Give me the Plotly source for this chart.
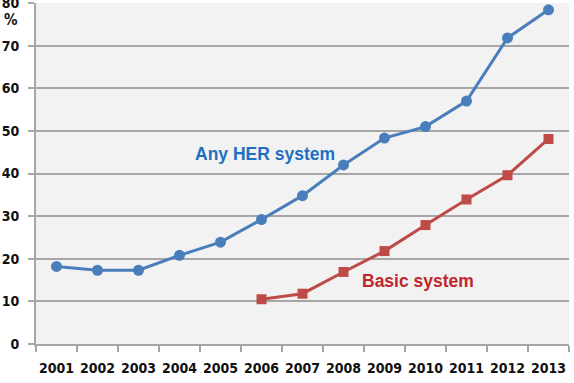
import plotly.graph_objects as go

years = ["2001", "2002", "2003", "2004", "2005", "2006", "2007",
         "2008", "2009", "2010", "2011", "2012", "2013"]
any_her = [18.2, 17.3, 17.3, 20.8, 23.9, 29.2, 34.8, 42.0, 48.3, 51.0, 57.0, 71.8, 78.4]
basic_years = ["2006", "2007", "2008", "2009", "2010", "2011", "2012", "2013"]
basic = [10.5, 11.8, 16.9, 21.8, 27.9, 33.9, 39.6, 48.1]
y_ticks = [0, 10, 20, 30, 40, 50, 60, 70, 80]

blue = "#4a7ebb"
red = "#be4b48"
grid = "#a6a6a6"
tickfam = "DejaVu Sans Condensed, DejaVu Sans"

fig = go.Figure()
fig.add_trace(go.Scatter(x=years, y=any_her, mode="lines+markers",
                         line=dict(color=blue, width=3),
                         marker=dict(symbol="circle", size=11, color=blue),
                         showlegend=False, cliponaxis=False))
fig.add_trace(go.Scatter(x=basic_years, y=basic, mode="lines+markers",
                         line=dict(color=red, width=3),
                         marker=dict(symbol="square", size=10, color=red),
                         showlegend=False, cliponaxis=False))

fig.add_annotation(x=5, y=44.5, text="<b>Any HER system</b>", showarrow=False,
                   font=dict(family="Liberation Sans, Arial", size=17.5, color="#1f6fc0"),
                   xanchor="center", yanchor="middle", xshift=3)
fig.add_annotation(x=9, y=14.8, text="<b>Basic system</b>", showarrow=False,
                   font=dict(family="Liberation Sans, Arial", size=17.5, color="#c0272d"),
                   xanchor="center", yanchor="middle", xshift=-8)
fig.add_annotation(xref="paper", yref="paper", x=-0.047, y=0.95, text="<b>%</b>",
                   showarrow=False, font=dict(family=tickfam, size=15, color="#111"),
                   xanchor="center", yanchor="middle")

fig.update_layout(
    width=574, height=383,
    margin=dict(l=36, r=5, t=3, b=39, autoexpand=False),
    paper_bgcolor="white", plot_bgcolor="#f2f2f2",
    font=dict(family=tickfam, color="#111"),
)
fig.update_xaxes(type="category", categoryorder="array", categoryarray=years,
                 range=[-0.5, 12.5], showgrid=False, showline=True, linecolor=grid,
                 linewidth=2, ticks="outside", tickson="boundaries", ticklen=6,
                 tickcolor=grid, tickwidth=1.5, tickangle=0, ticklabelstandoff=10,
                 automargin=False,
                 tickfont=dict(family=tickfam, size=14, color="#111", weight="bold"))
fig.update_yaxes(range=[0, 80], tickvals=y_ticks, showgrid=True, gridcolor=grid,
                 gridwidth=1.5, showline=True, linecolor=grid, linewidth=2,
                 ticks="outside", ticklen=6, tickcolor=grid, tickwidth=1.5,
                 zeroline=False, ticklabelstandoff=6, ticklabeloverflow="allow",
                 automargin=False,
                 tickfont=dict(family=tickfam, size=14, color="#111", weight="bold"))

fig.write_html("out.html")
